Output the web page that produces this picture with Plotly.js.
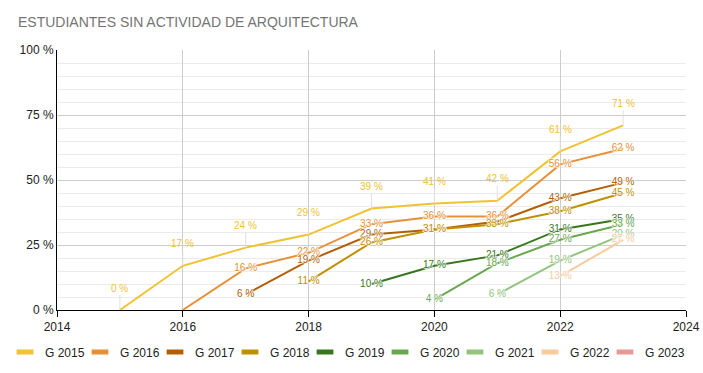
<!DOCTYPE html>
<html>
<head>
<meta charset="utf-8">
<script src="https://cdn.plot.ly/plotly-3.0.1.min.js"></script>
<style>
  html, body { margin: 0; padding: 0; background: #fff; }
  #chart { width: 703px; height: 373px; }
</style>
</head>
<body>
<div id="chart"></div>
<script>
// ---- data ----
const years = [2015, 2016, 2017, 2018, 2019, 2020, 2021, 2022, 2023];
const seriesNames = ["G 2015", "G 2016", "G 2017", "G 2018", "G 2019", "G 2020", "G 2021", "G 2022", "G 2023"];
const g2015 = [0, 17, 24, 29, 39, 41, 42, 61, 71];
const g2016 = [null, 0, 16, 22, 33, 36, 36, 56, 62];
const g2017 = [null, null, 6, 19, 29, 31, 34, 43, 49];
const g2018 = [null, null, null, 11, 26, 31, 33, 38, 45];
const g2019 = [null, null, null, null, 10, 17, 21, 31, 35];
const g2020 = [null, null, null, null, null, 4, 18, 27, 33];
const g2021 = [null, null, null, null, null, null, 6, 19, 29];
const g2022 = [null, null, null, null, null, null, null, 13, 27];
const g2023 = [null, null, null, null, null, null, null, null, null];
const xTickVals = [2014, 2016, 2018, 2020, 2022, 2024];
const yTickVals = [0, 25, 50, 75, 100];
const yTickText = ["0 %", "25 %", "50 %", "75 %", "100 %"];
// labels that the original chart hides because they collide: [series index, year]
const hiddenLabels = [[1, 2016], [2, 2021]];

// ---- style ----
const colors = ["#f1c232", "#e69138", "#b45f06", "#bf9000", "#38761d", "#6aa84f", "#93c47d", "#f9cb9c", "#ea9999"];
const allSeries = [g2015, g2016, g2017, g2018, g2019, g2020, g2021, g2022, g2023];
const FONT = "Arial, 'Liberation Sans', sans-serif";
const halo = "1px 0 1px #fff, -1px 0 1px #fff, 0 1px 1px #fff, 0 -1px 1px #fff";

const traces = [];
const annotations = [];

allSeries.forEach((vals, i) => {
  traces.push({
    type: "scatter", mode: "lines", x: years, y: vals,
    line: { color: colors[i], width: 2 },
    showlegend: false, hoverinfo: "skip"
  });
});

allSeries.forEach((vals, i) => {
  const isHidden = (yr) => hiddenLabels.some(h => h[0] === i && h[1] === yr);
  if (i === 0) {
    vals.forEach((v, k) => {
      if (v === null) return;
      annotations.push({
        x: years[k], y: v, xref: "x", yref: "y",
        text: v + " %", showarrow: true, arrowhead: 0, arrowwidth: 1,
        arrowcolor: "#e0e0e0", ax: 0, ay: -22, standoff: 0, startstandoff: 0,
        font: { family: FONT, size: 10, color: colors[i] }
      });
    });
  } else {
    const txt = vals.map((v, k) => (v === null || isHidden(years[k])) ? "" : v + " %");
    traces.push({
      type: "scatter", mode: "text", x: years, y: vals, text: txt,
      textposition: "middle center",
      textfont: { family: FONT, size: 10, color: colors[i], shadow: halo },
      showlegend: false, hoverinfo: "skip", cliponaxis: false
    });
  }
});

const layout = {
  width: 703, height: 373,
  margin: { l: 57, r: 17, t: 50, b: 63 },
  paper_bgcolor: "#fff", plot_bgcolor: "#fff",
  font: { family: FONT, size: 12, color: "#444" },
  title: {
    text: "ESTUDIANTES SIN ACTIVIDAD DE ARQUITECTURA",
    x: 18 / 703, xanchor: "left", xref: "container",
    y: 1 - 22 / 373, yanchor: "middle", yref: "container",
    font: { family: FONT, size: 14, color: "#757575" }
  },
  xaxis: {
    range: [2014, 2024], tickvals: xTickVals, ticktext: xTickVals.map(String),
    showgrid: true, gridcolor: "#cccccc", gridwidth: 1,
    showline: true, linecolor: "#000", linewidth: 1,
    ticks: "outside", ticklen: 6, tickcolor: "#000",
    zeroline: false, fixedrange: true,
    tickfont: { family: FONT, size: 12, color: "#222" }
  },
  yaxis: {
    range: [0, 100], tickvals: yTickVals, ticktext: yTickText,
    showgrid: true, gridcolor: "#cccccc", gridwidth: 1,
    minor: { dtick: 5, showgrid: true, gridcolor: "#ebebeb", gridwidth: 1 },
    showline: true, linecolor: "#000", linewidth: 1,
    ticks: "", zeroline: false, fixedrange: true,
    tickfont: { family: FONT, size: 12, color: "#222" }
  },
  showlegend: true,
  annotations: annotations
};

// legend: one small legend box per series, placed side by side
allSeries.forEach((vals, i) => {
  const key = i === 0 ? "legend" : "legend" + (i + 1);
  traces.push({
    type: "scatter", mode: "markers", x: [null], y: [null],
    name: seriesNames[i], legend: key,
    marker: { symbol: "line-ew", size: 12, color: colors[i], line: { width: 5, color: colors[i] } },
    showlegend: true, hoverinfo: "skip"
  });
  layout[key] = {
    orientation: "h", xref: "container", yref: "container",
    x: (5 + i * 75) / 703, xanchor: "left", y: 1 - 352 / 373, yanchor: "middle",
    font: { family: FONT, size: 12, color: "#222" },
    itemwidth: 30, bgcolor: "rgba(0,0,0,0)"
  };
});

Plotly.newPlot("chart", traces, layout, { displayModeBar: false, staticPlot: true });
</script>
</body>
</html>
